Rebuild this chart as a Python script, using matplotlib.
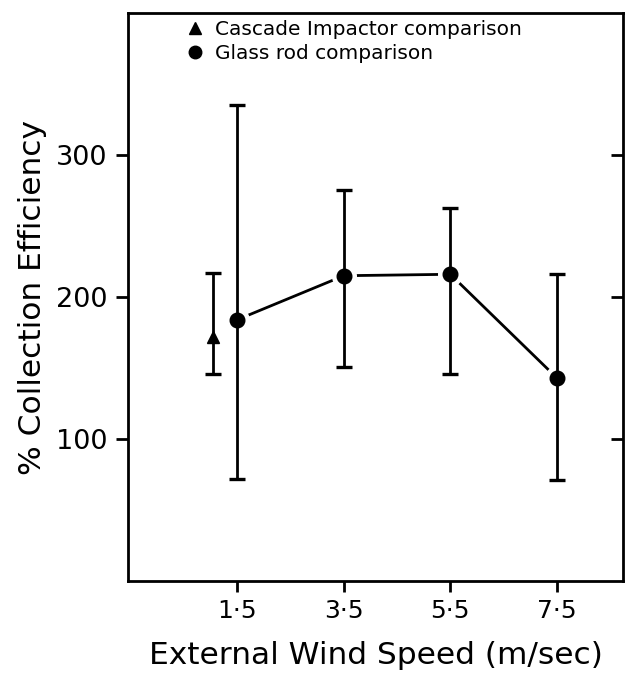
import matplotlib

matplotlib.use("Agg")

import matplotlib.pyplot as plt
from matplotlib.lines import Line2D

plt.rcParams["font.family"] = ["DejaVu Sans"]

# data
glass_speed = [1.5, 3.5, 5.5, 7.5]
glass_eff = [184, 215, 216, 143]
glass_low = [72, 151, 146, 71]
glass_high = [335, 275, 263, 216]

cascade_speed = [1.05]
cascade_eff = [172]
cascade_low = [146]
cascade_high = [217]

xtick_pos = [1.5, 3.5, 5.5, 7.5]
xtick_labels = ["1·5", "3·5", "5·5", "7·5"]
ytick_pos = [100, 200, 300]

fig = plt.figure(figsize=(6.26, 6.82), dpi=100)
ax = fig.add_axes([0.2045, 0.148, 0.7915, 0.833])

# connecting line, broken around each marker by a white halo
ax.plot(glass_speed, glass_eff, color="black", lw=2.0, zorder=1)
ax.plot(glass_speed, glass_eff, "o", ms=17, color="white", zorder=2)

g_err = [[e - lo for e, lo in zip(glass_eff, glass_low)],
         [hi - e for e, hi in zip(glass_eff, glass_high)]]
ax.errorbar(glass_speed, glass_eff, yerr=g_err, fmt="none", ecolor="black",
            elinewidth=2.0, capsize=6, capthick=2.4, zorder=3)
ax.plot(glass_speed, glass_eff, "o", ms=10.5, color="black", zorder=4)

c_err = [[e - lo for e, lo in zip(cascade_eff, cascade_low)],
         [hi - e for e, hi in zip(cascade_eff, cascade_high)]]
ax.errorbar(cascade_speed, cascade_eff, yerr=c_err, fmt="^", ms=9, color="black",
            elinewidth=2.0, capsize=6, capthick=2.4, zorder=4)

ax.set_xlim(-0.55, 8.75)
ax.set_ylim(0, 400)
ax.set_xticks(xtick_pos)
ax.set_xticklabels(xtick_labels)
ax.set_yticks(ytick_pos)

for s in ax.spines.values():
    s.set_linewidth(2.0)

ax.tick_params(axis="x", direction="out", length=8, width=2.0, labelsize=18, pad=5)
ax.tick_params(axis="y", left=True, right=True, length=9, width=2.0,
               labelsize=19.5, pad=6)
# right side ticks point inward, left ones outward
for t in ax.yaxis.get_major_ticks():
    t.tick1line.set_marker(matplotlib.lines.TICKLEFT)
    t.tick2line.set_marker(matplotlib.lines.TICKLEFT)

ax.set_xlabel("External Wind Speed (m/sec)", fontsize=22.5, labelpad=13)
ax.set_ylabel("% Collection Efficiency", fontsize=22.5, labelpad=6)

handles = [
    Line2D([], [], marker="^", color="black", ls="none", ms=8),
    Line2D([], [], marker="o", color="black", ls="none", ms=9),
]
ax.legend(handles, ["Cascade Impactor comparison", "Glass rod comparison"],
          loc="upper left", bbox_to_anchor=(0.075, 1.02), frameon=False,
          fontsize=14.5, handletextpad=0.35, labelspacing=0.25, handlelength=1.2)

fig.savefig("out.png", dpi=100)
